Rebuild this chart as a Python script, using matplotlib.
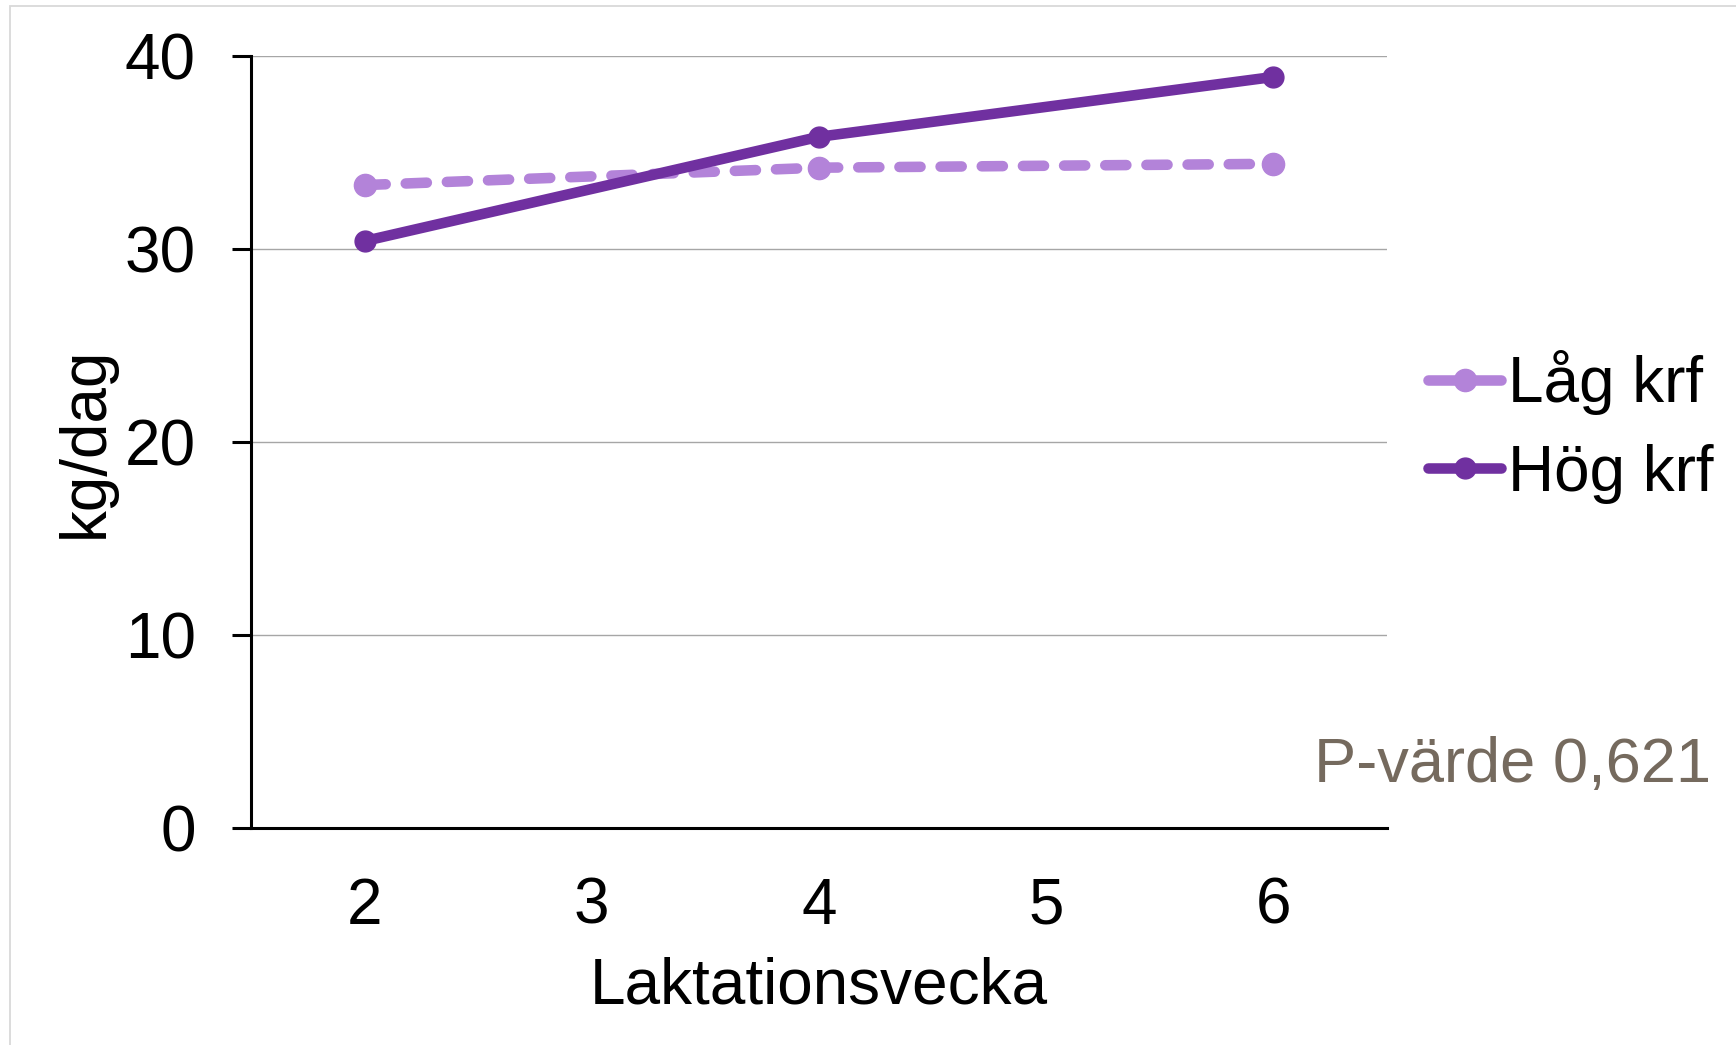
import matplotlib
matplotlib.use("Agg")
import matplotlib.pyplot as plt
from matplotlib.patches import Rectangle

weeks = [2, 4, 6]
lag_krf = [33.3, 34.2, 34.4]
hog_krf = [30.4, 35.8, 38.9]
series_names = ["Låg krf", "Hög krf"]
x_ticks = [2, 3, 4, 5, 6]
y_ticks = [0, 10, 20, 30, 40]
x_label = "Laktationsvecka"
y_label = "kg/dag"
p_text = "P-värde 0,621"

plt.rcParams['font.family'] = ['Liberation Sans', 'DejaVu Sans']
FS = 46

W, H = 1736, 1045
fig = plt.figure(figsize=(W / 100, H / 100), dpi=100)
ax = fig.add_axes([251 / W, 1 - 828 / H, (1387 - 251) / W, (828 - 55.7) / H])

c_lag = '#b383d9'
c_hog = '#7030a0'

ax.plot(weeks, lag_krf, color=c_lag, lw=7.6, ls=(0, (2.0, 1.9)),
        dash_capstyle='round', solid_capstyle='round',
        marker='o', markersize=16, label=series_names[0], zorder=3)
ax.plot(weeks, hog_krf, color=c_hog, lw=7.6, solid_capstyle='round',
        marker='o', markersize=15, label=series_names[1], zorder=4)

ax.set_xlim(1.5, 6.5)
ax.set_ylim(0, 40)
ax.set_xticks(x_ticks)
ax.set_yticks(y_ticks)
ax.set_xticklabels([str(v) for v in x_ticks])
ax.set_yticklabels([str(v) for v in y_ticks])

for s in ['top', 'right']:
    ax.spines[s].set_visible(False)
for s in ['left', 'bottom']:
    ax.spines[s].set_linewidth(2.2)
    ax.spines[s].set_color('black')

ax.yaxis.grid(True, color='#a6a6a6', lw=1.0)
ax.set_axisbelow(True)

ax.tick_params(axis='y', direction='out', length=13.7, width=2.2, pad=26, labelsize=FS)
ax.tick_params(axis='x', length=0, pad=35, labelsize=FS)

ax.set_xlabel(x_label, fontsize=FS)
ax.xaxis.set_label_coords(0.5, -0.166)
ax.set_ylabel(y_label, fontsize=FS)
ax.yaxis.set_label_coords(-0.119, 0.5)

leg = fig.legend(loc='center left', bbox_to_anchor=(1428 / W, 0.5915),
                 frameon=False, fontsize=FS, handlelength=1.15,
                 handletextpad=0.1, labelspacing=0.45, borderpad=0,
                 borderaxespad=0)
for ln in leg.get_lines():
    ln.set_linestyle('-')
    ln.set_solid_capstyle('round')

fig.text(1711 / W, 1 - 781.7 / H, p_text, fontsize=45.5, color='#756a5e',
         ha='right', va='baseline')

fig.add_artist(Rectangle((10 / W, -0.1), 1.2, 0.1 + 1 - 6 / H,
                         transform=fig.transFigure, fill=False,
                         edgecolor='#d9d9d9', lw=1.3))

fig.savefig('out.png', dpi=100)
